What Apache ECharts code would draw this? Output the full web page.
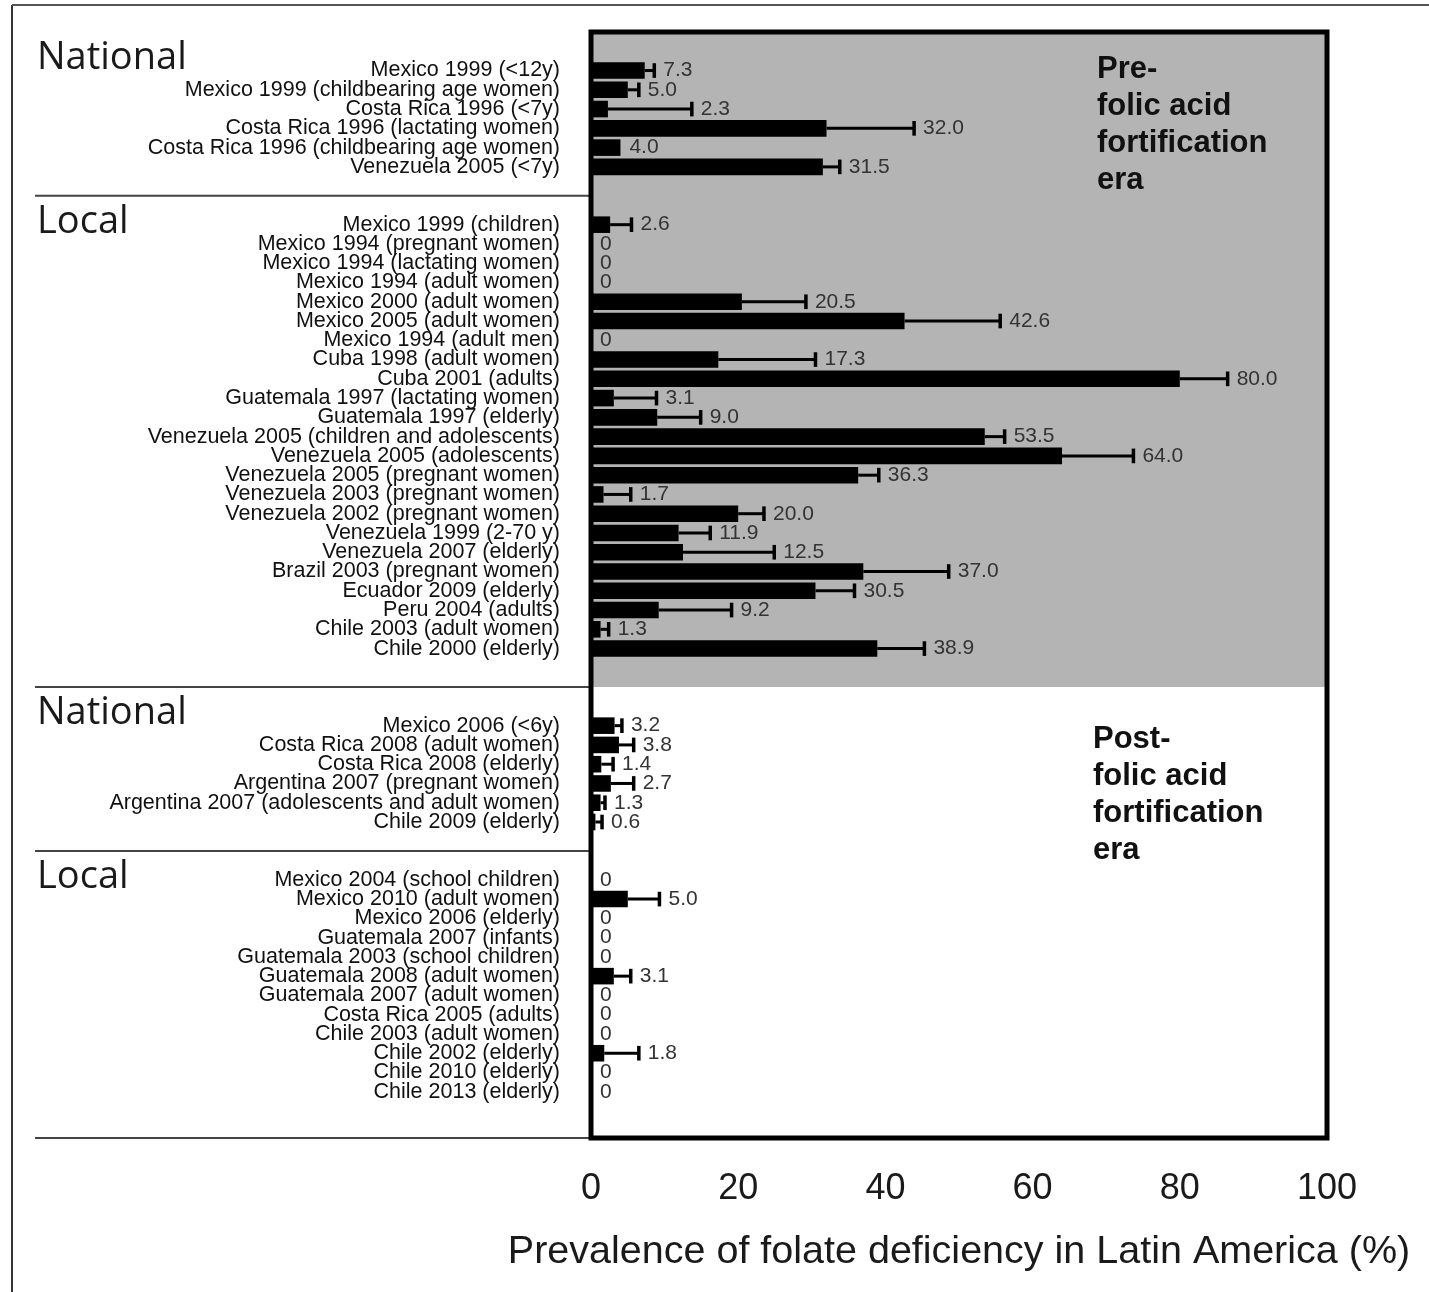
<!DOCTYPE html>
<html>
<head>
<meta charset="utf-8">
<script src="https://cdn.jsdelivr.net/npm/echarts@6/dist/echarts.min.js"></script>
<style>
html,body{margin:0;padding:0;background:#fff;}
#c{width:1429px;height:1292px;}
</style>
</head>
<body>
<div id="c"></div>
<script>
// ---------- DATA ----------
const sectionHeaders = ['National', 'Local', 'National', 'Local'];

const natPreLabels = ['Mexico 1999 (<12y)', 'Mexico 1999 (childbearing age women)', 'Costa Rica 1996 (<7y)',
  'Costa Rica 1996 (lactating women)', 'Costa Rica 1996 (childbearing age women)', 'Venezuela 2005 (<7y)'];
const natPreValues = [7.3, 5.0, 2.3, 32.0, 4.0, 31.5];
const natPreUpper = [8.6, 6.5, 13.7, 43.9, null, 33.8];

const locPreLabels = ['Mexico 1999 (children)', 'Mexico 1994 (pregnant women)', 'Mexico 1994 (lactating women)',
  'Mexico 1994 (adult women)', 'Mexico 2000 (adult women)', 'Mexico 2005 (adult women)', 'Mexico 1994 (adult men)',
  'Cuba 1998 (adult women)', 'Cuba 2001 (adults)', 'Guatemala 1997 (lactating women)', 'Guatemala 1997 (elderly)',
  'Venezuela 2005 (children and adolescents)', 'Venezuela 2005 (adolescents)', 'Venezuela 2005 (pregnant women)',
  'Venezuela 2003 (pregnant women)', 'Venezuela 2002 (pregnant women)', 'Venezuela 1999 (2-70 y)',
  'Venezuela 2007 (elderly)', 'Brazil 2003 (pregnant women)', 'Ecuador 2009 (elderly)', 'Peru 2004 (adults)',
  'Chile 2003 (adult women)', 'Chile 2000 (elderly)'];
const locPreValues = [2.6, 0, 0, 0, 20.5, 42.6, 0, 17.3, 80.0, 3.1, 9.0, 53.5, 64.0, 36.3, 1.7, 20.0, 11.9, 12.5, 37.0, 30.5, 9.2, 1.3, 38.9];
const locPreUpper = [5.5, null, null, null, 29.2, 55.6, null, 30.5, 86.5, 8.9, 14.9, 56.2, 73.7, 39.1, 5.4, 23.5, 16.2, 24.9, 48.6, 35.8, 19.1, 2.4, 45.3];

const natPostLabels = ['Mexico 2006 (<6y)', 'Costa Rica 2008 (adult women)', 'Costa Rica 2008 (elderly)',
  'Argentina 2007 (pregnant women)', 'Argentina 2007 (adolescents and adult women)', 'Chile 2009 (elderly)'];
const natPostValues = [3.2, 3.8, 1.4, 2.7, 1.3, 0.6];
const natPostUpper = [4.2, 5.8, 3.0, 5.8, 1.9, 1.5];

const locPostLabels = ['Mexico 2004 (school children)', 'Mexico 2010 (adult women)', 'Mexico 2006 (elderly)',
  'Guatemala 2007 (infants)', 'Guatemala 2003 (school children)', 'Guatemala 2008 (adult women)',
  'Guatemala 2007 (adult women)', 'Costa Rica 2005 (adults)', 'Chile 2003 (adult women)', 'Chile 2002 (elderly)',
  'Chile 2010 (elderly)', 'Chile 2013 (elderly)'];
const locPostValues = [0, 5.0, 0, 0, 0, 3.1, 0, 0, 0, 1.8, 0, 0];
const locPostUpper = [null, 9.3, null, null, null, 5.4, null, null, null, 6.5, null, null];

const eraLabels = ['Pre-\nfolic acid\nfortification\nera', 'Post-\nfolic acid\nfortification\nera'];
const xTicks = [0, 20, 40, 60, 80, 100];
const xTitle = 'Prevalence of folate deficiency in Latin America (%)';

// ---------- BUILD ROWS ----------
const sections = [
  {labels: natPreLabels, values: natPreValues, upper: natPreUpper, gapAfter: 2},
  {labels: locPreLabels, values: locPreValues, upper: locPreUpper, gapAfter: 3},
  {labels: natPostLabels, values: natPostValues, upper: natPostUpper, gapAfter: 2},
  {labels: locPostLabels, values: locPostValues, upper: locPostUpper, gapAfter: 0}
];
const rowLabels = [];
const rows = [];
const sectionStart = [], sectionEnd = [];
let idx = 0;
sections.forEach((s) => {
  sectionStart.push(idx);
  s.labels.forEach((lab, i) => {
    rowLabels[idx] = lab;
    rows.push([s.values[i], idx, s.upper[i] == null ? '-' : s.upper[i]]);
    idx++;
  });
  sectionEnd.push(idx - 1);
  for (let g = 0; g < s.gapAfter; g++) { rowLabels[idx] = ''; idx++; }
});
const yMin = -2, yMax = idx - 1 + 2.4;
// boundaries between sections (midpoints)
const boundaries = [yMin];
for (let k = 1; k < sections.length; k++) boundaries.push((sectionEnd[k - 1] + sectionStart[k]) / 2);
boundaries.push(yMax);
const eraBoundary = boundaries[2];

const FONT = 'Liberation Sans, Arial, sans-serif';

const chart = echarts.init(document.getElementById('c'), null, {renderer: 'canvas'});
const option = {
  animation: false,
  backgroundColor: '#ffffff',
  grid: {left: 591, right: 102, top: 32, bottom: 154, containLabel: false, show: false},
  xAxis: {
    type: 'value', min: xTicks[0], max: xTicks[xTicks.length - 1], interval: xTicks[1] - xTicks[0],
    axisLine: {show: false},
    axisTick: {show: true, length: 11, lineStyle: {color: '#222', width: 2}},
    splitLine: {show: false},
    axisLabel: {fontFamily: FONT, fontSize: 36, color: '#1a1a1a', margin: 33},
    name: xTitle, nameLocation: 'middle', nameGap: 94,
    nameTextStyle: {fontFamily: FONT, fontSize: 39.5, color: '#1a1a1a'}
  },
  yAxis: {
    type: 'value', inverse: true, min: yMin, max: yMax, interval: 1,
    axisLine: {show: false}, axisTick: {show: false}, splitLine: {show: false},
    axisLabel: {
      fontFamily: FONT, fontSize: 21.5, color: '#111', margin: 31,
      formatter: (v) => (Number.isInteger(v) && v >= 0 && rowLabels[v]) ? rowLabels[v] : ''
    }
  },
  series: [
    {
      type: 'line', data: [], z: 1, silent: true,
      markArea: {
        silent: true, itemStyle: {color: '#b4b4b4'},
        data: [[{yAxis: yMin}, {yAxis: eraBoundary}]]
      }
    },
    {
      type: 'custom', z: 5, silent: true,
      encode: {x: 0, y: 1},
      data: rows,
      renderItem: function (params, api) {
        const v = api.value(0), i = api.value(1), up = api.value(2);
        const p0 = api.coord([0, i]);
        const p1 = api.coord([v, i]);
        const h = api.size([0, 1])[1];
        const bh = h * 0.86;
        const ch = [];
        if (v > 0) {
          ch.push({type: 'rect', shape: {x: p0[0], y: p1[1] - bh / 2, width: p1[0] - p0[0], height: bh},
            style: {fill: '#000'}});
        }
        let endX = p1[0];
        if (!isNaN(up) && up > v) {
          const pu = api.coord([up, i]);
          ch.push({type: 'line', shape: {x1: p1[0], y1: p1[1], x2: pu[0], y2: pu[1]},
            style: {stroke: '#000', lineWidth: 3}});
          ch.push({type: 'line', shape: {x1: pu[0], y1: pu[1] - h * 0.38, x2: pu[0], y2: pu[1] + h * 0.38},
            style: {stroke: '#000', lineWidth: 3.5}});
          endX = pu[0];
        }
        ch.push({type: 'text', style: {text: v === 0 ? '0' : v.toFixed(1), x: endX + 9, y: p1[1],
          textVerticalAlign: 'middle', textAlign: 'left', font: '21px ' + FONT, fill: '#333'}});
        return {type: 'group', children: ch};
      }
    }
  ]
};
chart.setOption(option);

// ---------- DECORATION (frame, separators, headers) ----------
const pTL = chart.convertToPixel({gridIndex: 0}, [0, yMin]);
const pBR = chart.convertToPixel({gridIndex: 0}, [100, yMax]);
const g = [];
// outer figure border
g.push({type: 'line', shape: {x1: 12, y1: 5, x2: 12, y2: 1292}, style: {stroke: '#333', lineWidth: 2}, z: 50});
g.push({type: 'line', shape: {x1: 12, y1: 5, x2: 1429, y2: 5}, style: {stroke: '#555', lineWidth: 2}, z: 50});
// plot frame
g.push({type: 'rect', shape: {x: pTL[0], y: pTL[1], width: pBR[0] - pTL[0], height: pBR[1] - pTL[1]},
  style: {fill: null, stroke: '#000', lineWidth: 5}, z: 60});
// separators on the left
boundaries.slice(1).forEach((b) => {
  const py = chart.convertToPixel({gridIndex: 0}, [0, b])[1];
  g.push({type: 'line', shape: {x1: 35, y1: py, x2: pTL[0], y2: py}, style: {stroke: '#444', lineWidth: 2}, z: 40});
});
// headers
sectionHeaders.forEach((t, k) => {
  const py = chart.convertToPixel({gridIndex: 0}, [0, boundaries[k]])[1];
  g.push({type: 'text', style: {text: t, x: 37, y: py + 26, textVerticalAlign: 'middle',
    font: '38px "Open Sans", sans-serif', fill: '#1a1a1a'}, z: 40});
});
// era labels
g.push({type: 'text', style: {text: eraLabels[0], x: 1097, y: 51, textVerticalAlign: 'top',
  font: 'bold 31px ' + FONT, lineHeight: 37, fill: '#111'}, z: 40});
g.push({type: 'text', style: {text: eraLabels[1], x: 1093, y: 721, textVerticalAlign: 'top',
  font: 'bold 31px ' + FONT, lineHeight: 37, fill: '#111'}, z: 40});
chart.setOption({graphic: {elements: g}});
</script>
</body>
</html>
